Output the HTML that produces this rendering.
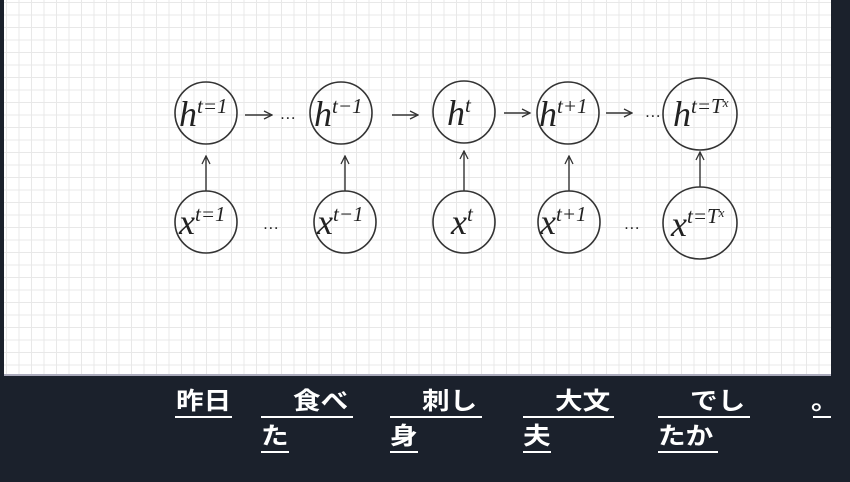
<!DOCTYPE html>
<html><head><meta charset="utf-8"><style>
html,body{margin:0;padding:0}
body{width:850px;height:482px;background:#1b212c;position:relative;overflow:hidden;font-family:"Liberation Sans","Noto Sans CJK JP",sans-serif}
.box{position:absolute;left:4px;top:0;width:827px;height:374px;background-color:#fff;
background-image:linear-gradient(#e8e8e8 1px,transparent 1px),linear-gradient(90deg,#e8e8e8 1px,transparent 1px);
background-size:12.5px 12.5px;background-position:2px 2px;border-bottom:2px solid #aab;}
.t{position:absolute;color:#fff;font-weight:bold;font-size:24px;line-height:24px;white-space:pre;transform:scaleX(1.15);transform-origin:0 0}
.u{position:absolute;height:2px;background:#fff}
svg text{font-family:"Liberation Serif",serif;font-style:italic;fill:#222}
</style></head><body>
<div class="box"></div>
<svg width="850" height="482" style="position:absolute;left:0;top:0">
<defs><marker id="a" markerWidth="10" markerHeight="10" refX="9" refY="5" orient="auto" markerUnits="userSpaceOnUse"><path d="M1,1 L9,5 L1,9" fill="none" stroke="#333" stroke-width="1.3"/></marker></defs>
<g fill="none" stroke="#333" stroke-width="1.6">
<ellipse cx="206" cy="113" rx="31" ry="31"/>
<ellipse cx="341" cy="113" rx="31" ry="31"/>
<ellipse cx="464" cy="112" rx="31" ry="31"/>
<ellipse cx="568" cy="113" rx="31" ry="31"/>
<ellipse cx="700" cy="114" rx="37" ry="36"/>
<ellipse cx="206" cy="222" rx="31" ry="31"/>
<ellipse cx="345" cy="222" rx="31" ry="31"/>
<ellipse cx="464" cy="222" rx="31" ry="31"/>
<ellipse cx="569" cy="222" rx="31" ry="31"/>
<ellipse cx="700" cy="223" rx="37" ry="36"/>
</g>
<g stroke="#333" stroke-width="1.4" marker-end="url(#a)">
<line x1="245" y1="115" x2="272" y2="115"/>
<line x1="392" y1="115" x2="418" y2="115"/>
<line x1="504" y1="113" x2="530" y2="113"/>
<line x1="606" y1="113" x2="632" y2="113"/>
<line x1="206" y1="191" x2="206" y2="156"/>
<line x1="345" y1="191" x2="345" y2="156"/>
<line x1="464" y1="191" x2="464" y2="151"/>
<line x1="569" y1="191" x2="569" y2="156"/>
<line x1="700" y1="187" x2="700" y2="152"/>
</g>
<g font-size="36">
<text x="179" y="126">h<tspan font-size="21" dy="-13">t=1</tspan></text>
<text x="314" y="126">h<tspan font-size="21" dy="-13">t−1</tspan></text>
<text x="447" y="125">h<tspan font-size="21" dy="-13">t</tspan></text>
<text x="539" y="126">h<tspan font-size="21" dy="-13">t+1</tspan></text>
<text x="673" y="126">h<tspan font-size="21" dy="-13">t=T<tspan font-size="13" dy="-6">x</tspan></tspan></text>
<text x="179" y="234">x<tspan font-size="21" dy="-13">t=1</tspan></text>
<text x="317" y="234">x<tspan font-size="21" dy="-13">t−1</tspan></text>
<text x="451" y="234">x<tspan font-size="21" dy="-13">t</tspan></text>
<text x="540" y="234">x<tspan font-size="21" dy="-13">t+1</tspan></text>
<text x="671" y="236">x<tspan font-size="21" dy="-13">t=T<tspan font-size="13" dy="-6">x</tspan></tspan></text>
</g>
<g font-size="16" style="font-style:normal">
<text x="281" y="119">…</text>
<text x="646" y="117">…</text>
<text x="264" y="229">…</text>
<text x="625" y="229">…</text>
</g>
</svg>
<div class="t" style="left:176px;top:390px">昨日</div>
<div class="t" style="left:293px;top:390px">食べ</div>
<div class="t" style="left:422px;top:390px">刺し</div>
<div class="t" style="left:555px;top:390px">大文</div>
<div class="t" style="left:690px;top:390px">でし</div>
<div class="t" style="left:811px;top:390px">。</div>
<div class="t" style="left:261px;top:425px">た</div>
<div class="t" style="left:390px;top:425px">身</div>
<div class="t" style="left:523px;top:425px">夫</div>
<div class="t" style="left:658px;top:425px">たか</div>
<div class="u" style="left:175px;top:416px;width:57px"></div>
<div class="u" style="left:261px;top:416px;width:92px"></div>
<div class="u" style="left:390px;top:416px;width:92px"></div>
<div class="u" style="left:523px;top:416px;width:91px"></div>
<div class="u" style="left:658px;top:416px;width:92px"></div>
<div class="u" style="left:813px;top:416px;width:18px"></div>
<div class="u" style="left:261px;top:451px;width:28px"></div>
<div class="u" style="left:390px;top:451px;width:28px"></div>
<div class="u" style="left:523px;top:451px;width:28px"></div>
<div class="u" style="left:658px;top:451px;width:60px"></div>
</body></html>
